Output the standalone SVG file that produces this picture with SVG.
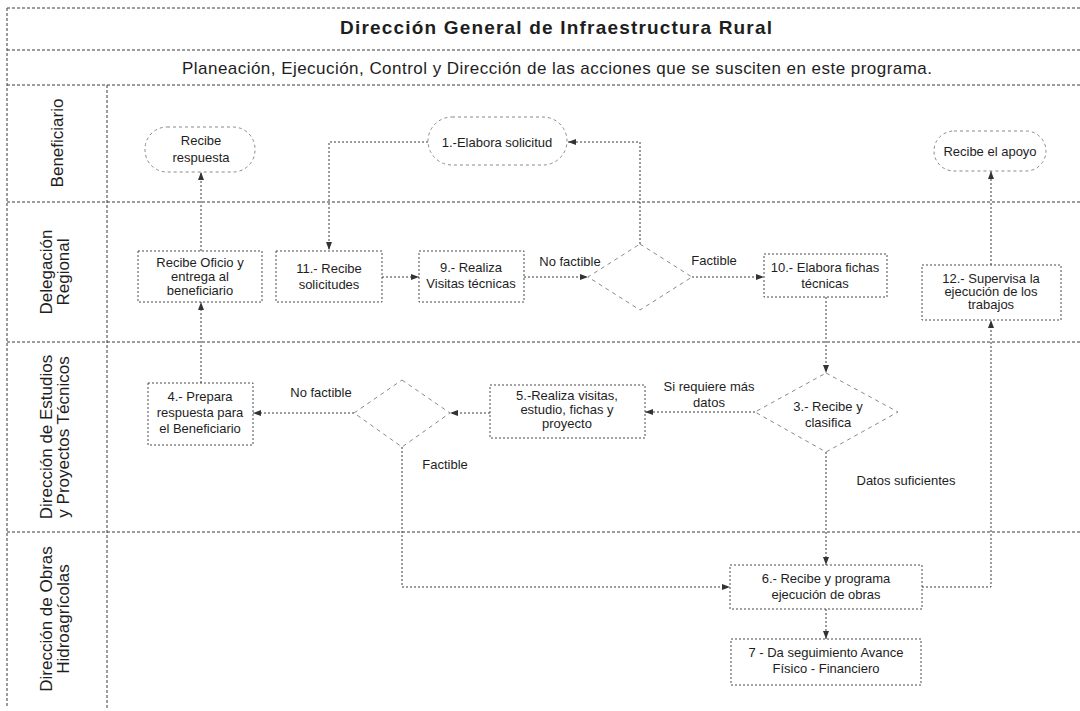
<svg xmlns="http://www.w3.org/2000/svg" width="1080" height="711" viewBox="0 0 1080 711">
<style>
.bg{fill:#ffffff}
.lane{stroke:#3a3a3a;stroke-width:1;stroke-dasharray:3 2;fill:none}
.box{fill:none;stroke:#4a4a4a;stroke-width:1;stroke-dasharray:2 2}
.dia{fill:none;stroke:#8a8a8a;stroke-width:1;stroke-dasharray:4 4}
.term{fill:none;stroke:#8a8a8a;stroke-width:1;stroke-dasharray:3 3}
.conn{fill:none;stroke:#3a3a3a;stroke-width:1;stroke-dasharray:2 2;marker-end:url(#arr)}
text{font-family:"Liberation Sans",Arial,Helvetica,sans-serif;fill:#1e1e1e}
.t{font-size:13px;text-anchor:middle}
.lbl{font-size:13px;text-anchor:middle}
.ln{font-size:17px;text-anchor:middle}
.title{font-size:19px;font-weight:bold;text-anchor:middle}
.sub{font-size:17px;text-anchor:middle}
</style>
<defs>
<marker id="arr" markerUnits="userSpaceOnUse" markerWidth="8" markerHeight="6" refX="8" refY="3" orient="auto">
<path d="M0,0 L8,3 L0,6 z" fill="#333"/>
</marker>
</defs>
<rect class="bg" x="0" y="0" width="1080" height="711"/>

<g id="frame">
<path class="lane" d="M7,8 H1080"/>
<path class="lane" d="M7,50 H1080"/>
<path class="lane" d="M7,85 H1080"/>
<path class="lane" d="M7,202 H1080"/>
<path class="lane" d="M7,342 H1080"/>
<path class="lane" d="M7,532 H1080"/>
<path class="lane" d="M7,8 V708"/>
<path class="lane" d="M107,85 V708"/>
<text class="title" x="556" y="34" textLength="432">Dirección General de Infraestructura Rural</text>
<text class="sub" x="557" y="74" textLength="750">Planeación, Ejecución, Control y Dirección de las acciones que se susciten en este programa.</text>
</g>

<g id="lane-beneficiario"><text class="ln" transform="rotate(-90)" x="-143" y="63">Beneficiario</text></g>
<g id="lane-delegacion"><text class="ln" transform="rotate(-90)" x="-272" y="52">Delegación</text><text class="ln" transform="rotate(-90)" x="-272" y="69">Regional</text></g>
<g id="lane-estudios"><text class="ln" transform="rotate(-90)" x="-437" y="52">Dirección de Estudios</text><text class="ln" transform="rotate(-90)" x="-437" y="69">y Proyectos Técnicos</text></g>
<g id="lane-obras"><text class="ln" transform="rotate(-90)" x="-619" y="52">Dirección de Obras</text><text class="ln" transform="rotate(-90)" x="-619" y="69">Hidroagrícolas</text></g>

<g id="connectors">
<path class="conn" d="M428,142 H329 V250"/>
<path class="conn" d="M382,277 H419"/>
<path class="conn" d="M524,277 H588"/>
<path class="conn" d="M640,244 V142 H568"/>
<path class="conn" d="M692,277 H764"/>
<path class="conn" d="M826,297 V373"/>
<path class="conn" d="M755,412 H645"/>
<path class="conn" d="M490,413 H450"/>
<path class="conn" d="M354,413 H253"/>
<path class="conn" d="M201,383 V302"/>
<path class="conn" d="M201,251 V172"/>
<path class="conn" d="M402,447 V587 H730"/>
<path class="conn" d="M826,452 V565"/>
<path class="conn" d="M826,609 V639"/>
<path class="conn" d="M922,587 H991 V320"/>
<path class="conn" d="M991,265 V171"/>
<text class="lbl" x="570" y="266">No factible</text>
<text class="lbl" x="714" y="265">Factible</text>
<text class="lbl" x="709" y="391">Si requiere más</text>
<text class="lbl" x="709" y="407">datos</text>
<text class="lbl" x="321" y="397">No factible</text>
<text class="lbl" x="445" y="469">Factible</text>
<text class="lbl" x="906" y="485">Datos suficientes</text>
</g>

<g id="n-recibe-respuesta"><rect class="term" x="145" y="127" width="110" height="45" rx="22" ry="22"/><text class="t" x="201" y="145">Recibe</text><text class="t" x="201" y="162">respuesta</text></g>
<g id="n-1"><rect class="term" x="428" y="117" width="139" height="48" rx="24" ry="24"/><text class="t" x="497" y="147">1.-Elabora solicitud</text></g>
<g id="n-recibe-apoyo"><rect class="term" x="934" y="131" width="112" height="40" rx="20" ry="20"/><text class="t" x="990" y="156">Recibe el apoyo</text></g>

<g id="n-recibe-oficio"><rect class="box" x="138" y="251" width="124" height="51"/><text class="t" x="200" y="267">Recibe Oficio y</text><text class="t" x="200" y="281">entrega al</text><text class="t" x="200" y="295">beneficiario</text></g>
<g id="n-11"><rect class="box" x="276" y="251" width="106" height="51"/><text class="t" x="329" y="273">11.- Recibe</text><text class="t" x="329" y="289">solicitudes</text></g>
<g id="n-9"><rect class="box" x="419" y="251" width="105" height="51"/><text class="t" x="471" y="272">9.- Realiza</text><text class="t" x="471" y="288">Visitas técnicas</text></g>
<g id="n-d1"><polygon class="dia" points="640,244 692,277 640,310 588,277"/></g>
<g id="n-10"><rect class="box" x="764" y="254" width="123" height="43"/><text class="t" x="825" y="272">10.- Elabora fichas</text><text class="t" x="825" y="288">técnicas</text></g>
<g id="n-12"><rect class="box" x="922" y="265" width="139" height="55"/><text class="t" x="991" y="283">12.- Supervisa la</text><text class="t" x="991" y="296">ejecución de los</text><text class="t" x="991" y="309">trabajos</text></g>

<g id="n-4"><rect class="box" x="148" y="383" width="105" height="62"/><text class="t" x="200" y="401">4.- Prepara</text><text class="t" x="200" y="417">respuesta para</text><text class="t" x="200" y="433">el Beneficiario</text></g>
<g id="n-d2"><polygon class="dia" points="402,380 450,413 402,447 354,413"/></g>
<g id="n-5"><rect class="box" x="490" y="385" width="155" height="53"/><text class="t" x="567" y="400">5.-Realiza visitas,</text><text class="t" x="567" y="414">estudio, fichas y</text><text class="t" x="567" y="428">proyecto</text></g>
<g id="n-3"><polygon class="dia" points="826,373 898,412 826,452 755,412"/><text class="t" x="828" y="411">3.- Recibe y</text><text class="t" x="828" y="427">clasifica</text></g>

<g id="n-6"><rect class="box" x="730" y="565" width="192" height="44"/><text class="t" x="826" y="583">6.- Recibe y programa</text><text class="t" x="826" y="599">ejecución de obras</text></g>
<g id="n-7"><rect class="box" x="731" y="639" width="190" height="46"/><text class="t" x="826" y="657">7 - Da seguimiento Avance</text><text class="t" x="826" y="673">Físico - Financiero</text></g>
</svg>
